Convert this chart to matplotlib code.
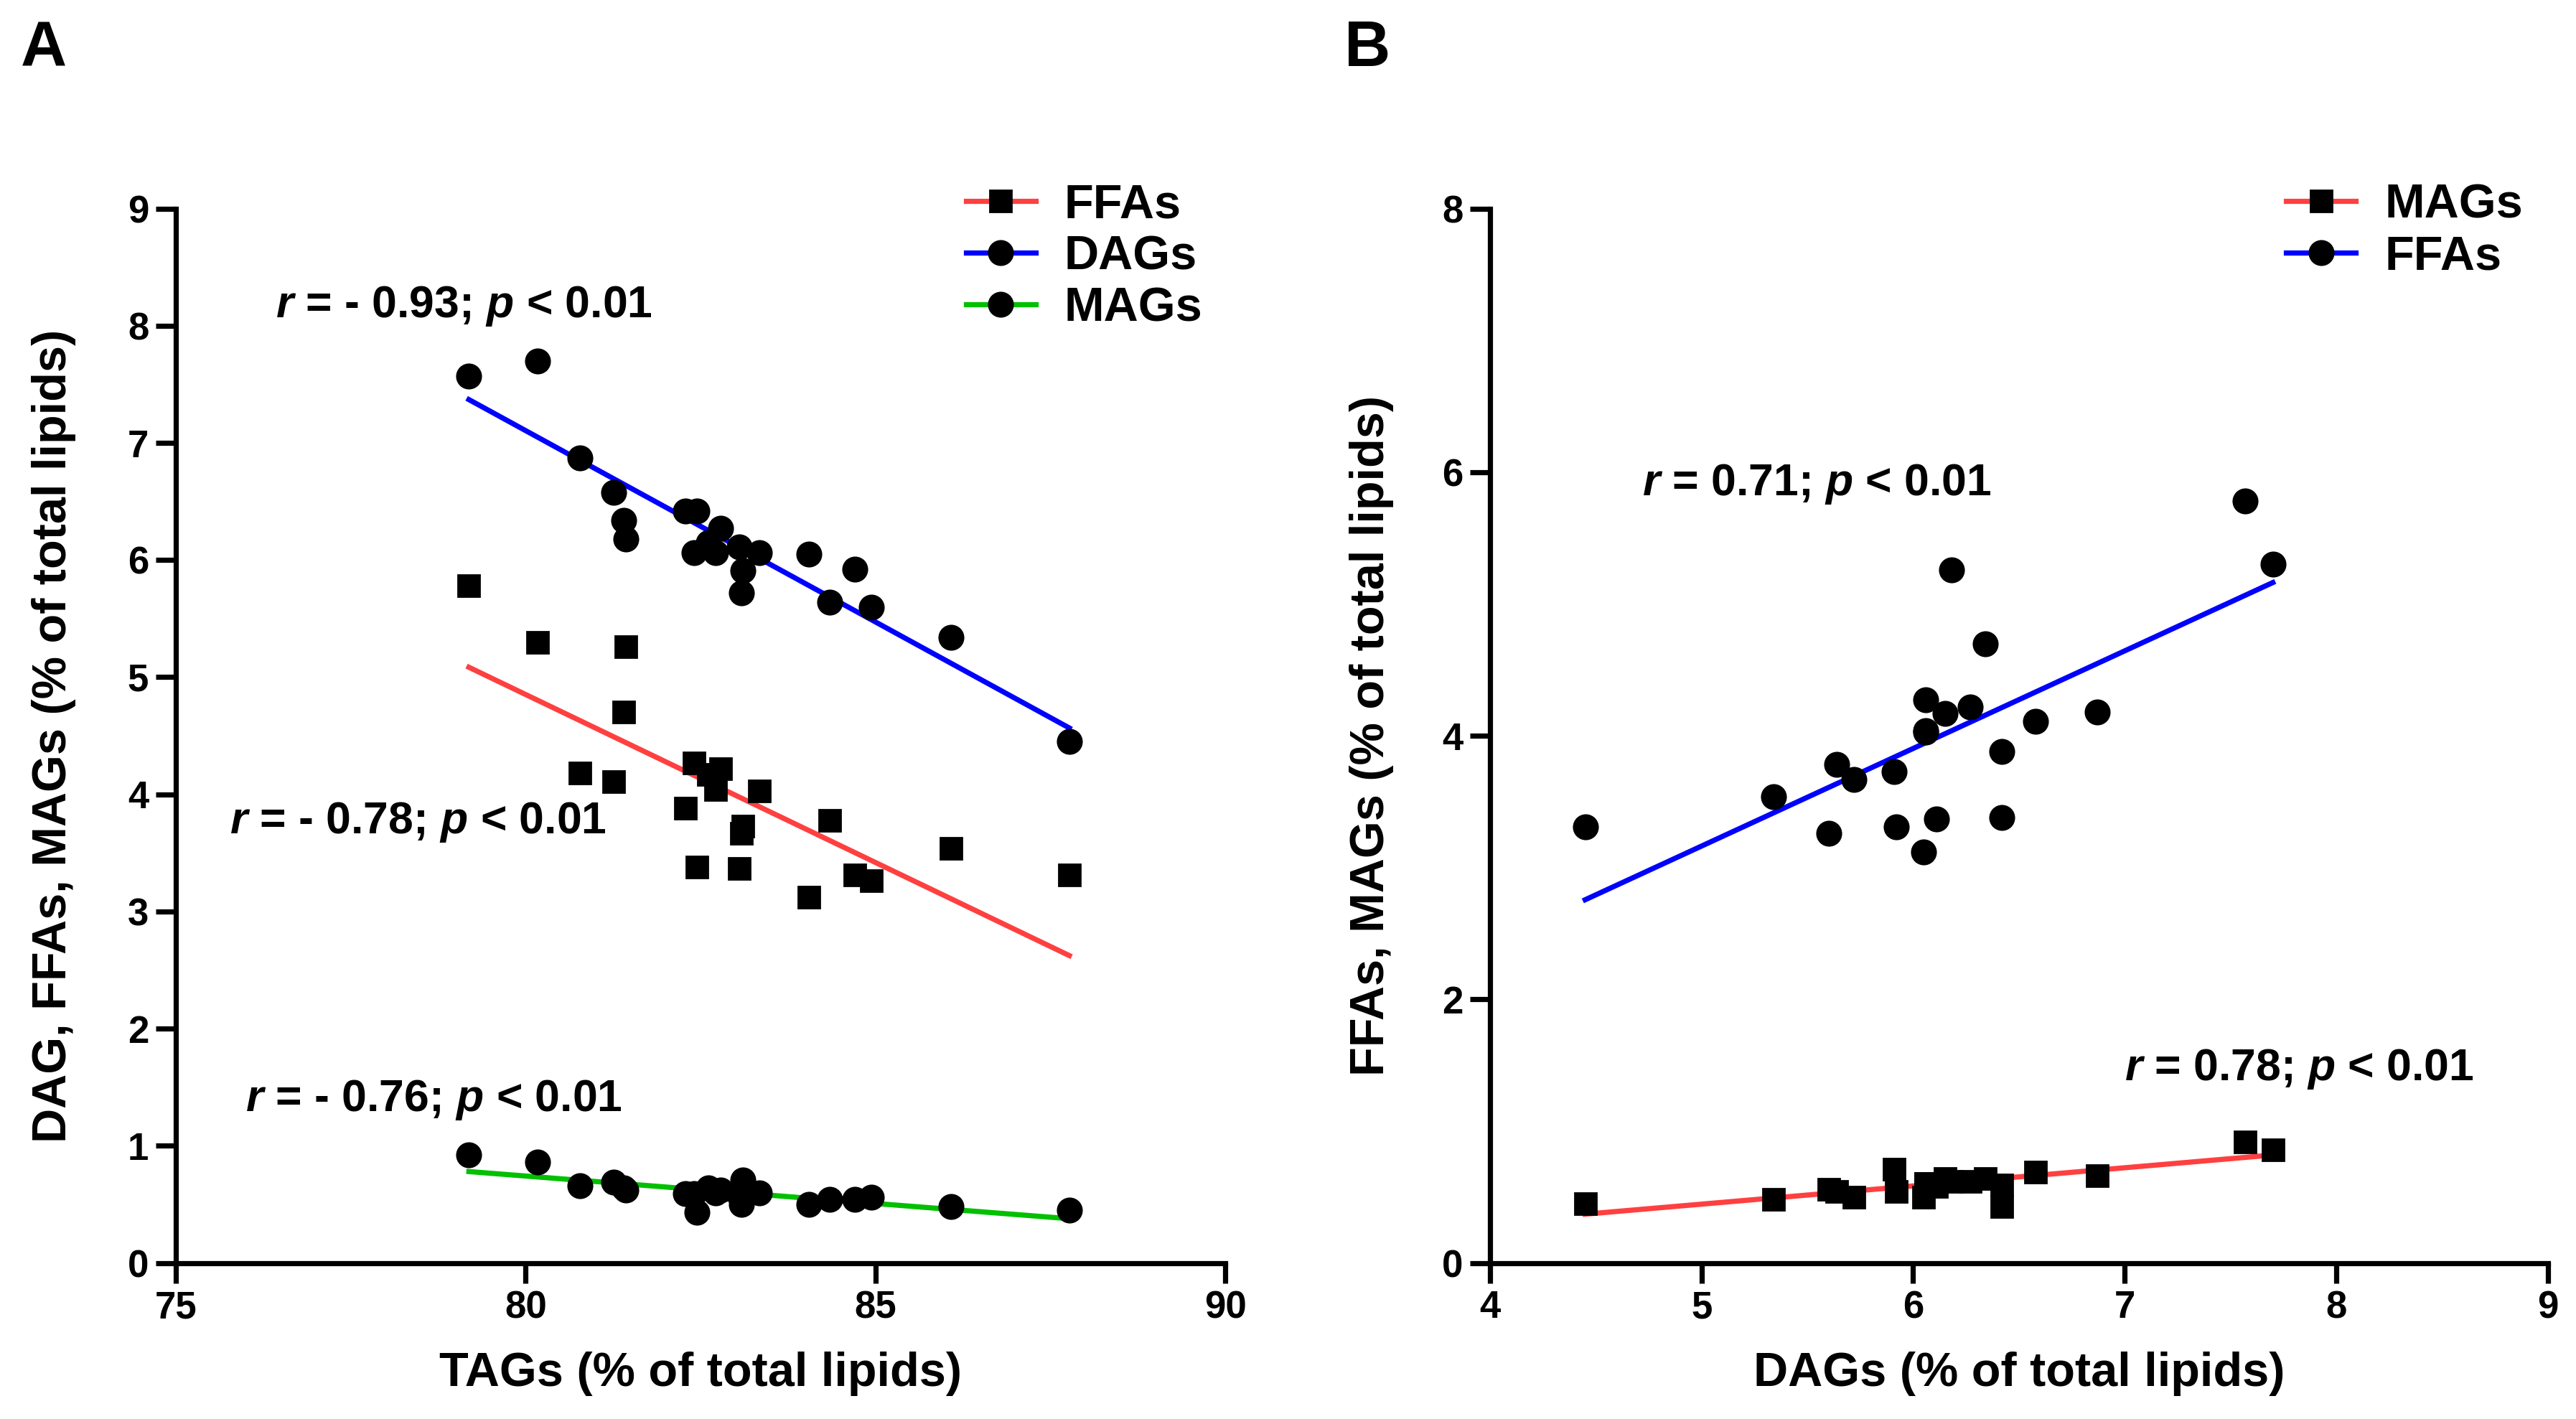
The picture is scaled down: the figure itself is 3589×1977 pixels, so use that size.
import numpy as np
import matplotlib.pyplot as plt
from matplotlib import font_manager

plt.rcParams['font.family'] = ['Liberation Sans', 'DejaVu Sans']
plt.rcParams['font.weight'] = 'bold'

# narrow face for the r / p notes, if it is there
names = {f.name for f in font_manager.fontManager.ttflist}
if 'Liberation Sans Narrow' in names:
    NOTE_FONT = 'Liberation Sans Narrow'
    NOTE_SIZE = 25
else:
    NOTE_FONT = 'Liberation Sans'
    NOTE_SIZE = 22.5
plt.rcParams['mathtext.fontset'] = 'custom'
plt.rcParams['mathtext.it'] = NOTE_FONT + ':bold:italic'
plt.rcParams['mathtext.rm'] = NOTE_FONT + ':bold'

# per-sample lipid contents (% of total lipids)
tags = [79.19, 80.17, 80.78, 81.26, 81.40, 81.43, 82.28, 82.45, 82.41, 82.61, 82.71,
        82.79, 83.05, 83.10, 83.08, 83.34, 84.05, 84.35, 84.70, 84.94, 86.08, 87.77]
dags = [7.57, 7.70, 6.87, 6.58, 6.34, 6.18, 6.42, 6.42, 6.06, 6.15, 6.06,
        6.27, 6.11, 5.91, 5.72, 6.06, 6.05, 5.64, 5.92, 5.60, 5.34, 4.45]
ffas = [5.78, 5.30, 4.18, 4.11, 4.70, 5.26, 3.88, 3.38, 4.27, 4.17, 4.04,
        4.22, 3.37, 3.73, 3.67, 4.03, 3.12, 3.78, 3.31, 3.26, 3.54, 3.31]
mags = [0.92, 0.86, 0.66, 0.69, 0.64, 0.62, 0.59, 0.43, 0.59, 0.64, 0.60,
        0.62, 0.58, 0.71, 0.50, 0.60, 0.50, 0.54, 0.54, 0.56, 0.48, 0.45]

txt_a = [r"$r$ = - 0.93; $p$ < 0.01", r"$r$ = - 0.78; $p$ < 0.01", r"$r$ = - 0.76; $p$ < 0.01"]
txt_b = [r"$r$ = 0.71; $p$ < 0.01", r"$r$ = 0.78; $p$ < 0.01"]

RED = '#FF4040'
BLUE = '#0000FF'
GREEN = '#00C000'


def fit_line(ax, x, y, color, marker, label, ms):
    x = np.array(x)
    y = np.array(y)
    k, b = np.polyfit(x, y, 1)
    xx = np.array([x.min(), x.max()])
    ax.plot(xx, k * xx + b, color=color, lw=2.6, label=label,
            marker=marker, markersize=ms, markerfacecolor='black',
            markeredgecolor='black', markevery=[])
    ax.plot(x, y, ls='none', marker=marker, ms=ms, color='black', zorder=3)


def style(ax):
    for s in ['top', 'right']:
        ax.spines[s].set_visible(False)
    for s in ['left', 'bottom']:
        ax.spines[s].set_linewidth(2.6)
    ax.tick_params(width=2.6, length=10, labelsize=19, direction='out')
    for lab in ax.get_xticklabels() + ax.get_yticklabels():
        lab.set_fontweight('bold')


def note(ax, x, y, s):
    ax.text(x, y, s, fontsize=NOTE_SIZE, va='center', family=NOTE_FONT, fontweight='bold')


fig = plt.figure(figsize=(17.945, 9.885), dpi=200)

# A
ax1 = fig.add_axes([0.0682, 0.110, 0.4075, 0.743])
fit_line(ax1, tags, ffas, RED, 's', 'FFAs', 11)
fit_line(ax1, tags, dags, BLUE, 'o', 'DAGs', 12)
fit_line(ax1, tags, mags, GREEN, 'o', 'MAGs', 12)
ax1.set_xlim(75, 90)
ax1.set_ylim(0, 9)
ax1.set_xticks([75, 80, 85, 90])
ax1.set_yticks(range(0, 10))
style(ax1)
ax1.set_xlabel('TAGs (% of total lipids)', fontsize=24, fontweight='bold', labelpad=13)
ax1.set_ylabel('DAG, FFAs, MAGs (% of total lipids)', fontsize=24, fontweight='bold', labelpad=26)
note(ax1, 76.43, 8.17, txt_a[0])
note(ax1, 75.77, 3.76, txt_a[1])
note(ax1, 76.0, 1.39, txt_a[2])
leg = ax1.legend(loc='upper left', bbox_to_anchor=(0.712, 1.065), frameon=False,
                 fontsize=24, handlelength=1.45, handletextpad=0.6, labelspacing=0.15)
for t in leg.get_texts():
    t.set_fontweight('bold')

# B
ax2 = fig.add_axes([0.5784, 0.110, 0.4107, 0.743])
fit_line(ax2, dags, mags, RED, 's', 'MAGs', 11)
fit_line(ax2, dags, ffas, BLUE, 'o', 'FFAs', 12)
ax2.set_xlim(4, 9)
ax2.set_ylim(0, 8)
ax2.set_xticks(range(4, 10))
ax2.set_yticks([0, 2, 4, 6, 8])
style(ax2)
ax2.set_xlabel('DAGs (% of total lipids)', fontsize=24, fontweight='bold', labelpad=13)
ax2.set_ylabel('FFAs, MAGs (% of total lipids)', fontsize=24, fontweight='bold', labelpad=24)
note(ax2, 4.72, 5.91, txt_b[0])
note(ax2, 7.0, 1.47, txt_b[1])
leg = ax2.legend(loc='upper left', bbox_to_anchor=(0.712, 1.065), frameon=False,
                 fontsize=24, handlelength=1.45, handletextpad=0.6, labelspacing=0.15)
for t in leg.get_texts():
    t.set_fontweight('bold')

fig.text(0.008, 0.965, 'A', fontsize=32, fontweight='bold', va='center')
fig.text(0.522, 0.965, 'B', fontsize=32, fontweight='bold', va='center')

fig.savefig('out.png', dpi=200, facecolor='white')
